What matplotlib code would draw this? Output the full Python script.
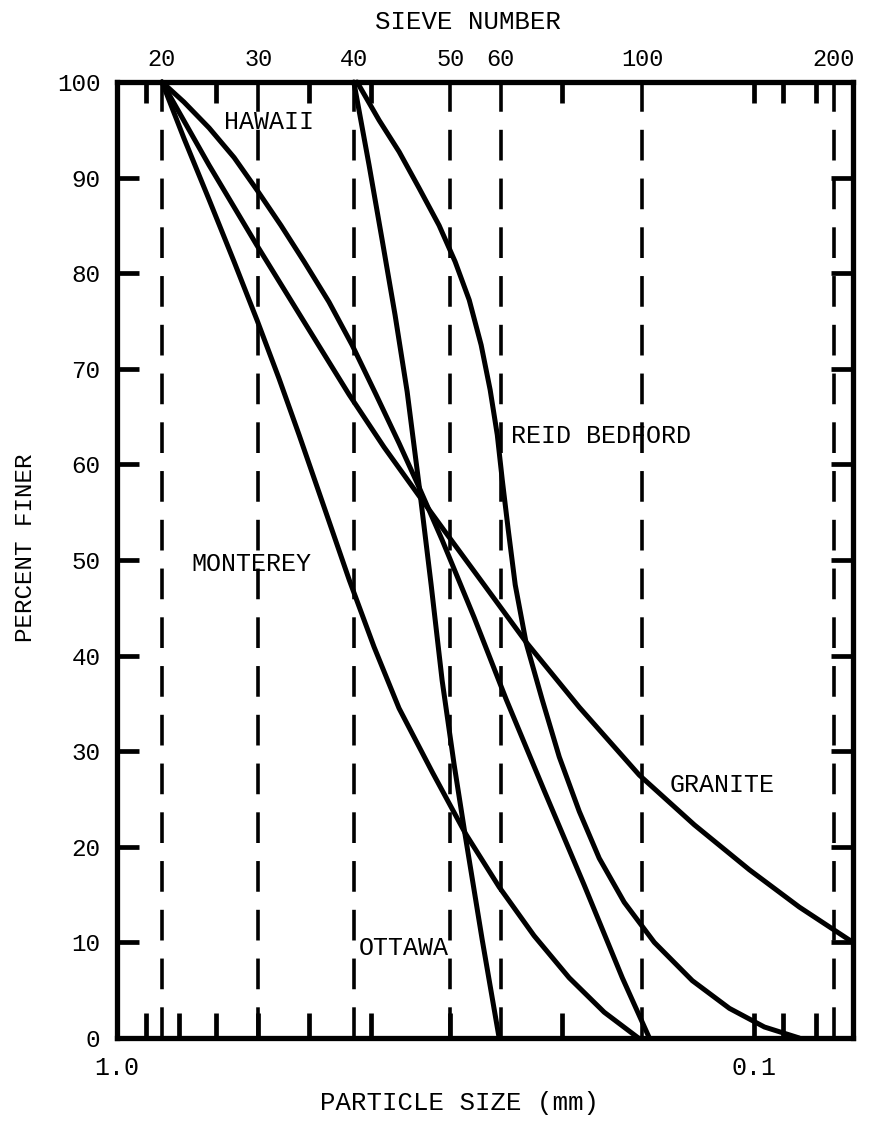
import numpy as np
import matplotlib.pyplot as plt
from matplotlib.ticker import FixedLocator, FixedFormatter, NullFormatter

plt.rcParams['font.family'] = ['Liberation Mono', 'DejaVu Sans Mono']

# grain size distribution curves: particle size (mm) vs percent finer
hawaii_d = [0.85, 0.785, 0.717, 0.655, 0.603, 0.553, 0.5085, 0.465, 0.4277, 0.3922,
            0.3608, 0.3357, 0.3089, 0.2752, 0.245, 0.2137, 0.1849, 0.1611, 0.1461]
hawaii_p = [100, 97.9, 95.2, 92.1, 88.7, 85.0, 81.2, 77.0, 72.5, 67.3,
            62.2, 57.6, 52.1, 44.0, 35.4, 25.9, 16.0, 6.3, 0]

granite_d = [0.85, 0.717, 0.603, 0.5085, 0.4323, 0.381, 0.3357, 0.3067, 0.2654,
             0.228, 0.1882, 0.1515, 0.1242, 0.1018, 0.085, 0.070]
granite_p = [100, 91.3, 82.9, 74.9, 67.3, 61.8, 56.7, 53.1, 47.4,
             41.4, 34.6, 27.5, 22.3, 17.6, 13.7, 10.0]

monterey_d = [0.85, 0.785, 0.717, 0.655, 0.603, 0.557, 0.518, 0.473, 0.432, 0.395,
              0.361, 0.320, 0.284, 0.2514, 0.2216, 0.1952, 0.172, 0.152]
monterey_p = [100, 94.1, 87.7, 81.2, 75.1, 69.0, 63.1, 55.5, 47.9, 40.9,
              34.5, 27.8, 21.4, 15.8, 10.7, 6.3, 2.7, 0]

ottawa_d = [0.425, 0.4022, 0.3837, 0.3661, 0.3505, 0.3357, 0.3214, 0.3089,
            0.2958, 0.2842, 0.2673, 0.2514]
ottawa_p = [100, 91.3, 83.5, 75.6, 67.6, 57.8, 47.4, 37.4,
            28.6, 21.2, 10.3, 0]

reid_d = [0.42, 0.3879, 0.3608, 0.3357, 0.3123, 0.2947, 0.2801, 0.2683, 0.2597,
          0.2531, 0.2486, 0.2432, 0.2372, 0.228, 0.2152, 0.2023, 0.1882, 0.1751,
          0.160, 0.1435, 0.1251, 0.1094, 0.0964, 0.085]
reid_p = [100, 96.0, 92.7, 88.9, 85.0, 81.2, 77.2, 72.5, 67.8,
          63.1, 58.4, 53.1, 47.4, 41.3, 35.4, 29.4, 23.7, 18.8,
          14.2, 10.0, 6.0, 3.1, 1.15, 0]

# U.S. standard sieves
sieve_no = [20, 30, 40, 50, 60, 100, 200]
sieve_mm = [0.85, 0.60, 0.425, 0.30, 0.25, 0.15, 0.075]

curve_labels = ['HAWAII', 'MONTEREY', 'REID BEDFORD', 'GRANITE', 'OTTAWA']
label_d = [0.679, 0.765, 0.2406, 0.136, 0.417]
label_p = [95.8, 49.6, 63.0, 26.5, 9.4]

W, H = 874, 1123
fig = plt.figure(figsize=(W / 100, H / 100), dpi=100)
left, right, top, bottom = 117, 853, 82, 1038
ax = fig.add_axes([left / W, 1 - bottom / H, (right - left) / W, (bottom - top) / H])

ax.set_xscale('log')
ax.set_xlim(1.0, 0.07)
ax.set_ylim(0, 100)

# dashed lines at the sieve openings
for d in sieve_mm:
    ax.axvline(d, color='black', lw=2.6, ls=(0, (8.5, 5)), zorder=1)

for xs, ys in [(hawaii_d, hawaii_p), (granite_d, granite_p), (monterey_d, monterey_p),
               (ottawa_d, ottawa_p), (reid_d, reid_p)]:
    ax.plot(xs, ys, color='black', lw=3.6, solid_capstyle='round',
            solid_joinstyle='round', zorder=3, clip_on=False)

for name, d, p in zip(curve_labels, label_d, label_p):
    ax.text(d, p, name, fontsize=18, ha='left', va='center', zorder=4)

for s in ax.spines.values():
    s.set_linewidth(3.8)

# bottom axis: particle size
ax.xaxis.set_major_locator(FixedLocator([1.0, 0.1]))
ax.xaxis.set_major_formatter(FixedFormatter(['1.0', '0.1']))
ax.xaxis.set_minor_locator(FixedLocator([0.9, 0.8, 0.7, 0.6, 0.5, 0.4, 0.3, 0.2, 0.09, 0.08]))
ax.xaxis.set_minor_formatter(NullFormatter())
ax.tick_params(axis='x', which='both', direction='in', length=18, width=3.4,
               labelsize=18, pad=13, top=False)

# percent finer on both sides
ax.set_yticks(np.arange(0, 101, 10))
ax.tick_params(axis='y', which='major', direction='in', length=16, width=3.4,
               labelsize=17.5, pad=12, right=True)

# top axis: sieve numbers
tax = ax.twiny()
tax.set_xscale('log')
tax.set_xlim(ax.get_xlim())
tax.xaxis.set_major_locator(FixedLocator(sieve_mm))
tax.xaxis.set_major_formatter(FixedFormatter([str(n) for n in sieve_no]))
tax.xaxis.set_minor_locator(FixedLocator([0.9, 0.7, 0.6, 0.5, 0.4, 0.3, 0.2, 0.1, 0.09, 0.08]))
tax.xaxis.set_minor_formatter(NullFormatter())
tax.tick_params(axis='x', which='major', length=0, labelsize=17, pad=8)
tax.tick_params(axis='x', which='minor', direction='in', length=15, width=3.4)
for s in tax.spines.values():
    s.set_visible(False)

fig.text(468 / W, 1 - 22 / H, 'SIEVE NUMBER', fontsize=18.5, ha='center', va='center')
fig.text(460 / W, 1 - 1103 / H, 'PARTICLE SIZE (mm)', fontsize=18.5, ha='center', va='center')
fig.text(26 / W, 1 - 548 / H, 'PERCENT FINER', fontsize=17.5, ha='center', va='center',
         rotation=90)

fig.savefig('out.png', dpi=100, facecolor='white')
